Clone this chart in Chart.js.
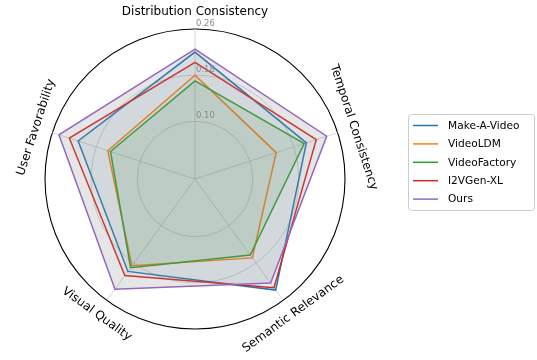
<!DOCTYPE html>
<html>
<head>
<meta charset="utf-8">
<script src="https://cdn.jsdelivr.net/npm/chart.js@4"></script>
<style>
html,body{margin:0;padding:0;background:#fff;}
#wrap{width:537px;height:360px;position:relative;}
</style>
</head>
<body>
<div id="wrap"><canvas id="c" width="537" height="360"></canvas></div>
<script>
const categories = ['Distribution Consistency', 'Temporal Consistency', 'Semantic Relevance', 'Visual Quality', 'User Favorability'];
const seriesNames = ['Make-A-Video', 'VideoLDM', 'VideoFactory', 'I2VGen-XL', 'Ours'];
const makeAVideo   = [0.220, 0.203, 0.238, 0.198, 0.213];
const videoLDM     = [0.180, 0.148, 0.169, 0.186, 0.159];
const videoFactory = [0.170, 0.199, 0.163, 0.190, 0.154];
const i2vgenXL     = [0.202, 0.221, 0.233, 0.207, 0.229];
const ours         = [0.225, 0.240, 0.223, 0.236, 0.248];
const tickValues = [0, 0.10, 0.18, 0.26];
const tickLabels = ['', '0.10', '0.18', '0.26'];

const colors = ['#1f77b4', '#ff7f0e', '#2ca02c', '#d62728', '#9467bd'];
const fills  = ['rgba(31,119,180,0.08)', 'rgba(128,128,128,0.06)', 'rgba(44,160,44,0.12)', 'rgba(128,128,128,0.06)', 'rgba(128,128,128,0.2)'];
const seriesValues = [makeAVideo, videoLDM, videoFactory, i2vgenXL, ours];

const FONT = "'DejaVu Sans', sans-serif";

const labelPlugin = {
  id: 'rotLabels',
  afterDraw(chart){
    const scale = chart.scales.r;
    const ctx = chart.ctx;
    ctx.save();
    ctx.font = `12px ${FONT}`;
    ctx.fillStyle = '#000';
    ctx.textAlign = 'center';
    ctx.textBaseline = 'middle';
    categories.forEach((lab, i) => {
      const p = scale.getPointPosition(i, scale.drawingArea + 17);
      let deg = scale.getIndexAngle(i) * 180 / Math.PI;
      while (deg > 90) deg -= 180;
      ctx.save();
      ctx.translate(p.x, p.y);
      ctx.rotate(deg * Math.PI / 180);
      ctx.fillText(lab, 0, 0);
      ctx.restore();
    });
    ctx.font = `8.5px ${FONT}`;
    ctx.fillStyle = '#8a8a8a';
    ctx.textAlign = 'left';
    ctx.textBaseline = 'bottom';
    tickValues.forEach((v, i) => {
      if (!tickLabels[i]) return;
      const d = scale.getDistanceFromCenterForValue(v);
      ctx.fillText(tickLabels[i], scale.xCenter + 1, scale.yCenter - d - 1);
    });
    const bx = 408.5, by = 114.5, bw = 126, bh = 96;
    ctx.fillStyle = 'rgba(255,255,255,0.8)';
    ctx.strokeStyle = '#cccccc';
    ctx.lineWidth = 1;
    ctx.beginPath();
    if (ctx.roundRect) ctx.roundRect(bx, by, bw, bh, 3); else ctx.rect(bx, by, bw, bh);
    ctx.fill();
    ctx.stroke();
    ctx.font = `10.6px ${FONT}`;
    ctx.textBaseline = 'middle';
    ctx.textAlign = 'left';
    chart.data.datasets.forEach((ds, i) => {
      const y = 125.5 + i * 18.4;
      ctx.strokeStyle = ds.borderColor;
      ctx.lineWidth = 1.5;
      ctx.beginPath();
      ctx.moveTo(413, y);
      ctx.lineTo(438, y);
      ctx.stroke();
      ctx.fillStyle = '#000';
      ctx.fillText(ds.label, 448, y + 0.5);
    });
    ctx.restore();
  }
};

new Chart(document.getElementById('c'), {
  type: 'radar',
  data: {
    labels: categories,
    datasets: seriesNames.map((n, i) => ({
      label: n,
      data: seriesValues[i],
      borderColor: colors[i],
      backgroundColor: fills[i],
      borderWidth: 1.5,
      pointRadius: 0,
      pointHoverRadius: 0,
      fill: true,
      tension: 0,
      order: 4 - i
    }))
  },
  options: {
    responsive: false,
    animation: false,
    devicePixelRatio: 1,
    layout: { padding: { left: 45, right: 192, top: 29, bottom: 31 } },
    plugins: { legend: { display: false }, tooltip: { enabled: false } },
    scales: {
      r: {
        min: 0,
        max: 0.26,
        afterBuildTicks(scale){ scale.ticks = tickValues.map(v => ({ value: v })); },
        ticks: { display: false },
        pointLabels: { display: false },
        grid: {
          circular: true,
          color: (c) => c.index === tickValues.length - 1 ? '#000000' : '#cfcfcf',
          lineWidth: (c) => c.index === tickValues.length - 1 ? 1.1 : 0.9
        },
        angleLines: { color: '#cfcfcf', lineWidth: 0.9 }
      }
    }
  },
  plugins: [labelPlugin]
});
</script>
</body>
</html>
